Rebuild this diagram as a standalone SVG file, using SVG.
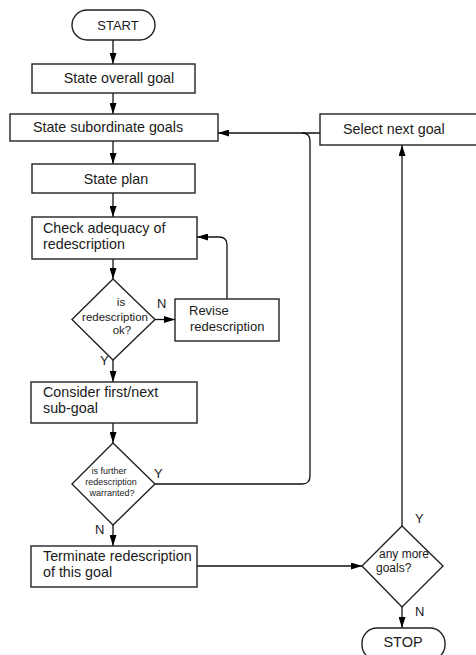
<svg xmlns="http://www.w3.org/2000/svg" width="476" height="655" viewBox="0 0 476 655">
<defs>
<marker id="ah" markerWidth="11" markerHeight="7" refX="11" refY="3.5" orient="auto" markerUnits="userSpaceOnUse"><path d="M0,0 L11,3.5 L0,7 z" fill="#000"/></marker>
<style>
.box{fill:#fff;stroke:#222;stroke-width:1.4}
.t{font-family:"Liberation Sans",Arial,sans-serif;font-size:13px;fill:#1a1a1a}
.b{font-size:14.3px}
.c{text-anchor:middle}
.s{font-size:11.5px}
.xs{font-size:9px}
.m{font-size:12px}
.ln{fill:none;stroke:#111;stroke-width:1.3}
.a{marker-end:url(#ah)}
</style>
</defs>
<rect width="476" height="655" fill="#fff"/>
<g id="connectors">
<path class="ln a" d="M113,40 L113,64"/>
<path class="ln a" d="M113,93 L113,114"/>
<path class="ln a" d="M113,141 L113,164"/>
<path class="ln a" d="M113,193 L113,217"/>
<path class="ln a" d="M113,259 L113,279"/>
<path class="ln a" d="M155,319.5 L175,319.5"/>
<path class="ln a" d="M227,299 L227,245 Q227,237 219,237 L197,237"/>
<path class="ln a" d="M113,360 L113,382"/>
<path class="ln a" d="M113,423 L113,443"/>
<path class="ln" d="M155,484 L302,484 Q310,484 310,476 L310,141 Q310,133 302,133"/>
<path class="ln a" d="M320,133 L218,133"/>
<path class="ln a" d="M113,525 L113,546"/>
<path class="ln a" d="M197,566 L362,566"/>
<path class="ln a" d="M402,526 L402,145"/>
<path class="ln a" d="M402,607 L402,628"/>
<text class="t" x="157" y="308">N</text>
<text class="t" x="100" y="365">Y</text>
<text class="t" x="154" y="478">Y</text>
<text class="t" x="95" y="534">N</text>
<text class="t" x="415" y="523">Y</text>
<text class="t" x="415" y="616">N</text>
</g>
<g id="start"><rect class="box" x="72" y="10" width="83" height="30" rx="15"/><text class="t c" x="118" y="30">START</text></g>
<g id="overall"><rect class="box" x="32" y="64" width="163" height="29"/><text class="t b c" x="119" y="83">State overall goal</text></g>
<g id="subordinate"><rect class="box" x="10" y="114" width="208" height="27"/><text class="t b c" x="108" y="132">State subordinate goals</text></g>
<g id="plan"><rect class="box" x="32" y="164" width="163" height="29"/><text class="t b c" x="116" y="184">State plan</text></g>
<g id="check"><rect class="box" x="32" y="217" width="165" height="42"/><text class="t b" x="43" y="233">Check adequacy of</text><text class="t b" x="43" y="249">redescription</text></g>
<g id="isok"><polygon class="box" points="113,279 155,319.5 113,360 72,319.5"/><text class="t s c" x="121" y="306">is</text><text class="t s c" x="115" y="321">redescription</text><text class="t s c" x="122" y="334">ok?</text></g>
<g id="revise"><rect class="box" x="175" y="299" width="104" height="42"/><text class="t" x="189" y="315">Revise</text><text class="t" x="190" y="331">redescription</text></g>
<g id="consider"><rect class="box" x="31" y="382" width="166" height="41"/><text class="t b" x="43" y="397">Consider first/next</text><text class="t b" x="43" y="413">sub-goal</text></g>
<g id="further"><polygon class="box" points="113,443 155,484 113,525 72,484"/><text class="t xs c" x="109" y="474">is further</text><text class="t xs c" x="111" y="485">redescription</text><text class="t xs c" x="112" y="496">warranted?</text></g>
<g id="terminate"><rect class="box" x="31" y="546" width="166" height="41"/><text class="t b" x="43" y="561">Terminate redescription</text><text class="t b" x="43" y="577">of this goal</text></g>
<g id="select"><rect class="box" x="320" y="114" width="160" height="31"/><text class="t b" x="343" y="134">Select next goal</text></g>
<g id="anymore"><polygon class="box" points="402,526 443,566 402,607 362,566"/><text class="t m" x="379" y="558">any more</text><text class="t m" x="376" y="572">goals?</text></g>
<g id="stop"><rect class="box" x="362" y="628" width="83" height="32" rx="15"/><text class="t c" x="403" y="647" style="font-size:14.5px">STOP</text></g>
</svg>
